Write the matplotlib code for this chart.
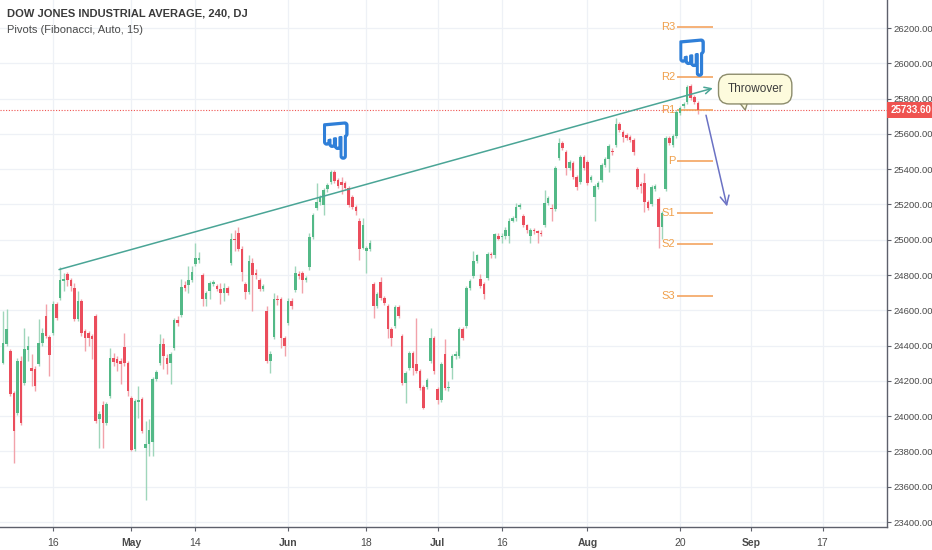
import numpy as np
import matplotlib
matplotlib.use("Agg")
import matplotlib.pyplot as plt
import matplotlib.patheffects as pe
from matplotlib.patches import Polygon
from matplotlib.transforms import blended_transform_factory

# ---------------- data (4h bars, DJ, Apr 5 - Aug 22 2018) ----------------
opens = [
    24303, 24411, 24371, 24132, 24019, 24314, 24189, 24377, 24274, 24269,
    24297, 24416, 24570, 24451, 24473, 24638, 24672, 24769, 24808, 24774,
    24729, 24553, 24655, 24485, 24473, 24456, 24570, 23985, 24064, 23962,
    24115, 24331, 24325, 24314, 24394, 24303, 24104, 23814, 24081, 24098,
    23820, 23843, 23854, 24212, 24303, 24411, 24331, 24303, 24388, 24547,
    24576, 24746, 24746, 24774, 24865, 24888, 24803, 24666, 24712, 24752,
    24740, 24723, 24700, 24729, 24871, 25007, 25036, 24950, 24752, 24706,
    24871, 24808, 24774, 24723, 24598, 24314, 24451, 24666, 24666, 24445,
    24530, 24655, 24717, 24808, 24814, 24774, 24843, 25013, 25178, 25212,
    25195, 25285, 25325, 25382, 25337, 25325, 25320, 25291, 25240, 25183,
    25109, 24956, 24939, 24950, 24752, 24627, 24763, 24672, 24627, 24496,
    24513, 24621, 24456, 24189, 24274, 24360, 24297, 24257, 24167, 24167,
    24314, 24445, 24155, 24093, 24354, 24161, 24274, 24343, 24343, 24496,
    24513, 24729, 24797, 24882, 24780, 24752, 24786, 24922, 24911, 25024,
    25013, 25019, 25024, 25109, 25121, 25183, 25132, 25081, 25024, 25053,
    25047, 25041, 25081, 25206, 25178, 25172, 25462, 25547, 25496, 25405,
    25433, 25354, 25325, 25467, 25439, 25337, 25240, 25297, 25337, 25422,
    25456, 25501, 25535, 25655, 25609, 25592, 25581, 25564, 25399, 25314,
    25320, 25212, 25200, 25285, 25229, 25070, 25285, 25575, 25535, 25587,
    25717, 25757, 25780, 25870, 25808, 25774,
]
highs = [
    24598, 24610, 24383, 24144, 24331, 24343, 24502, 24456, 24354, 24286,
    24553, 24502, 24638, 24462, 24655, 24649, 24848, 24814, 24820, 24786,
    24757, 24712, 24666, 24496, 24485, 24468, 24581, 24030, 24087, 24081,
    24388, 24360, 24343, 24331, 24473, 24314, 24115, 24098, 24172, 24110,
    23974, 23985, 24223, 24263, 24468, 24445, 24354, 24365, 24558, 24570,
    24780, 24769, 24854, 24854, 24984, 24928, 24814, 24712, 24769, 24774,
    24752, 24757, 24757, 24740, 25041, 25053, 25075, 24962, 24763, 24911,
    24894, 24837, 24786, 24752, 24627, 24371, 24700, 24689, 24678, 24456,
    24672, 24672, 24854, 24825, 24825, 24797, 25041, 25149, 25320, 25251,
    25291, 25320, 25393, 25393, 25348, 25354, 25331, 25303, 25251, 25195,
    25121, 25121, 24967, 24996, 24763, 24706, 24791, 24683, 24638, 24507,
    24632, 24632, 24468, 24257, 24371, 24371, 24558, 24269, 24178, 24218,
    24502, 24456, 24167, 24308, 24439, 24201, 24354, 24371, 24507, 24507,
    24740, 24780, 24939, 24922, 24808, 24763, 24933, 24933, 25041, 25036,
    25041, 25070, 25121, 25132, 25206, 25206, 25144, 25092, 25064, 25064,
    25058, 25053, 25280, 25246, 25200, 25416, 25575, 25558, 25507, 25450,
    25444, 25365, 25479, 25479, 25450, 25365, 25314, 25331, 25433, 25467,
    25541, 25518, 25689, 25666, 25621, 25604, 25592, 25575, 25410, 25325,
    25376, 25223, 25308, 25314, 25240, 25161, 25587, 25587, 25598, 25734,
    25757, 25780, 25876, 25882, 25819, 25785,
]
lows = [
    24297, 24399, 24115, 23735, 24008, 23951, 24178, 24314, 24172, 24144,
    24286, 24399, 24445, 24229, 24462, 24547, 24661, 24712, 24740, 24712,
    24541, 24541, 24456, 24371, 24399, 24325, 23962, 23820, 23820, 23951,
    24104, 24286, 24257, 24184, 24286, 24115, 23803, 23803, 23991, 23905,
    23525, 23775, 23775, 24201, 24291, 24269, 24240, 24184, 24377, 24513,
    24564, 24712, 24700, 24763, 24854, 24871, 24627, 24627, 24666, 24740,
    24712, 24638, 24655, 24689, 24859, 24939, 24939, 24769, 24666, 24695,
    24598, 24780, 24712, 24712, 24303, 24246, 24439, 24632, 24388, 24343,
    24519, 24610, 24706, 24780, 24700, 24763, 24831, 25002, 25166, 25195,
    25138, 25268, 25314, 25320, 25291, 25257, 25280, 25183, 25172, 25138,
    24888, 24945, 24814, 24939, 24558, 24615, 24661, 24632, 24445, 24399,
    24502, 24558, 24178, 24076, 24263, 24235, 24246, 24150, 24042, 24155,
    24303, 24240, 24070, 24081, 24150, 24144, 24212, 24325, 24331, 24434,
    24502, 24717, 24786, 24871, 24729, 24666, 24774, 24899, 24899, 24996,
    24979, 25007, 24979, 25098, 25109, 25172, 25070, 25041, 24979, 25030,
    24979, 25019, 25070, 25195, 25109, 25161, 25450, 25507, 25365, 25393,
    25342, 25280, 25314, 25393, 25308, 25325, 25109, 25285, 25325, 25410,
    25382, 25479, 25524, 25609, 25552, 25564, 25552, 25479, 25285, 25263,
    25155, 25166, 25189, 25274, 24956, 25007, 25274, 25535, 25524, 25575,
    25706, 25746, 25768, 25791, 25768, 25712,
]
closes = [
    24416, 24496, 24127, 23917, 24314, 23962, 24383, 24399, 24257, 24172,
    24416, 24473, 24456, 24348, 24638, 24558, 24774, 24780, 24774, 24740,
    24553, 24655, 24473, 24445, 24445, 24439, 23974, 24013, 23962, 24070,
    24331, 24308, 24303, 24297, 24303, 24144, 23809, 24087, 24093, 23917,
    23843, 23922, 24212, 24252, 24411, 24343, 24297, 24354, 24547, 24530,
    24734, 24729, 24774, 24820, 24894, 24899, 24666, 24700, 24757, 24763,
    24723, 24700, 24729, 24700, 25007, 24996, 24950, 24820, 24706, 24877,
    24803, 24803, 24723, 24740, 24314, 24354, 24666, 24661, 24445, 24399,
    24655, 24627, 24814, 24797, 24774, 24786, 25013, 25138, 25212, 25240,
    25280, 25308, 25382, 25331, 25303, 25308, 25291, 25195, 25183, 25161,
    24950, 25081, 24956, 24979, 24627, 24695, 24672, 24644, 24496, 24445,
    24621, 24570, 24189, 24246, 24360, 24274, 24257, 24161, 24047, 24206,
    24445, 24257, 24093, 24297, 24161, 24167, 24343, 24354, 24496, 24445,
    24729, 24769, 24882, 24911, 24740, 24695, 24922, 24911, 25030, 25007,
    25024, 25058, 25109, 25121, 25183, 25195, 25081, 25053, 25053, 25047,
    25036, 25030, 25206, 25234, 25172, 25405, 25547, 25518, 25405, 25439,
    25354, 25297, 25467, 25405, 25320, 25354, 25303, 25320, 25422, 25456,
    25530, 25496, 25655, 25621, 25581, 25575, 25564, 25496, 25297, 25303,
    25212, 25178, 25297, 25303, 25070, 25149, 25575, 25547, 25587, 25723,
    25746, 25768, 25865, 25802, 25780, 25733.6,
]
last_price = 25733.60

# x axis: bar index of each label
tick_pos = [14, 36, 54, 80, 102, 122, 140, 164, 190, 210, 230]
tick_labels = ["16", "May", "14", "Jun", "18", "Jul", "16", "Aug", "20", "Sep", "17"]
month_labels = {"May", "Jun", "Jul", "Aug", "Sep"}

# Fibonacci pivots
pivot_names = ["R3", "R2", "R1", "P", "S1", "S2", "S3"]
pivot_levels = [26207, 25920, 25738, 25444, 25153, 24975, 24683]
pivot_span = (189.2, 199.3)

# drawings
trend_start = (15.7, 24831)
trend_end = (199.2, 25859)
down_start = (197.3, 25706)
down_end = (203.2, 25189)
callout_pos = (211.1, 25854)
callout_tail = [(206.3, 25788), (209.1, 25788), (208.3, 25735)]
hand_marks = [(93.4, 25540), (193.4, 26010)]

# ---------------- styles ----------------
UP = "#53b987"
DOWN = "#eb4d5c"
UP_WICK = "#9fd6bb"
DOWN_WICK = "#f2a2aa"
GRID = "#eef1f6"
AXIS = "#5d606b"
TEXT = "#4a4a4a"
PIVOT = "#f4a460"
HAND = "#2f7fd8"

plt.rcParams["font.family"] = ["Liberation Sans", "DejaVu Sans"]

o = np.array(opens, dtype=float)
h = np.array(highs, dtype=float)
l = np.array(lows, dtype=float)
c = np.array(closes, dtype=float)
x = np.arange(len(o))
up = c >= o

fig = plt.figure(figsize=(9.32, 5.5), dpi=100)
fig.patch.set_facecolor("white")
ax = fig.add_axes([0, 23 / 550, 887 / 932, 527 / 550])
ax.set_xlim(-0.87, 248.1)
ax.set_ylim(23372, 26359)

# grid
ax.set_axisbelow(True)
ax.grid(True, color=GRID, lw=0.9)

# candles
ax.vlines(x[up], l[up], h[up], color=UP_WICK, lw=1, zorder=2)
ax.vlines(x[~up], l[~up], h[~up], color=DOWN_WICK, lw=1, zorder=2)
body = np.maximum(np.abs(c - o), 6)
bottom = np.minimum(o, c)
ax.bar(x[up], body[up], bottom=bottom[up], width=0.72, color=UP, lw=0, zorder=3)
ax.bar(x[~up], body[~up], bottom=bottom[~up], width=0.72, color=DOWN, lw=0, zorder=3)

# last price line
ax.axhline(last_price, color="#ef5350", lw=0.8, ls=(0, (1, 1.5)), zorder=1)
trans = blended_transform_factory(ax.transAxes, ax.transData)
ax.text(1.004, last_price, "%.2f" % last_price, transform=trans, ha="left", va="center",
        color="white", fontsize=7, fontweight="bold", clip_on=False, zorder=10,
        bbox=dict(boxstyle="square,pad=0.32", fc="#ef5350", ec="none"))

# pivots
ax.hlines(pivot_levels, pivot_span[0], pivot_span[1], color=PIVOT, lw=1.2, zorder=2)
for name, lvl in zip(pivot_names, pivot_levels):
    ax.text(pivot_span[0] - 0.6, lvl, name, ha="right", va="center",
            fontsize=8, color="#f0a04b", zorder=4)

# trend line and projection arrow
ax.annotate("", xy=trend_end, xytext=trend_start,
            arrowprops=dict(arrowstyle="->", color="#4aa596", lw=1.1,
                            shrinkA=0, shrinkB=0, mutation_scale=12), zorder=5)
ax.annotate("", xy=down_end, xytext=down_start,
            arrowprops=dict(arrowstyle="->", color="#6b72c4", lw=1.1,
                            shrinkA=0, shrinkB=0, mutation_scale=16), zorder=5)

# callout
ax.add_patch(Polygon(callout_tail, closed=True, fc="#fdfbdd", ec="#8c8c6c", lw=1, zorder=6))
ax.text(callout_pos[0], callout_pos[1], "Throwover", ha="center", va="center",
        fontsize=8.5, color="#3c3c3c", zorder=7,
        bbox=dict(boxstyle="round,pad=0.75,rounding_size=0.9", fc="#fdfbdd",
                  ec="#8c8c6c", lw=1))

# pointing hands
for hx, hy in hand_marks:
    ax.text(hx, hy, "\u261f", ha="center", va="center", fontsize=36,
            color=HAND, family="DejaVu Sans", zorder=8,
            path_effects=[pe.withStroke(linewidth=1.6, foreground=HAND)])

# axes cosmetics
for side in ("top", "left"):
    ax.spines[side].set_visible(False)
for side in ("right", "bottom"):
    ax.spines[side].set_color(AXIS)
    ax.spines[side].set_linewidth(1)

ax.yaxis.tick_right()
yt = np.arange(23400, 26201, 200)
ax.set_yticks(yt)
ax.set_yticklabels(["%.2f" % v for v in yt])
ax.tick_params(axis="y", length=3, pad=2, labelsize=6.8, colors=TEXT, color=AXIS)

ax.set_xticks(tick_pos)
ax.set_xticklabels(tick_labels)
ax.tick_params(axis="x", length=3, pad=5, labelsize=7.5, colors=TEXT, color=AXIS)
for lab in ax.get_xticklabels():
    if lab.get_text() in month_labels:
        lab.set_fontweight("bold")

# header
fig.text(7 / 932, 1 - 14 / 550, "DOW JONES INDUSTRIAL AVERAGE, 240, DJ",
         fontsize=8, fontweight="bold", color="#3a3a3a", va="center", ha="left")
fig.text(7 / 932, 1 - 30 / 550, "Pivots (Fibonacci, Auto, 15)",
         fontsize=8, color="#4a4a4a", va="center", ha="left")

fig.savefig("out.png", dpi=100, facecolor="white")
